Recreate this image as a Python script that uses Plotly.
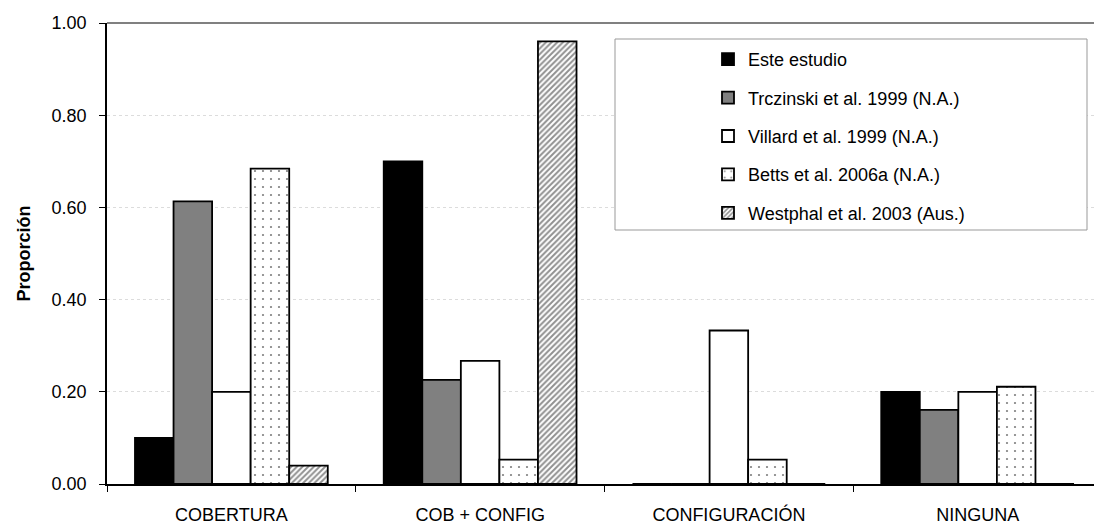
import plotly.graph_objects as go

categories = ["COBERTURA", "COB + CONFIG", "CONFIGURACIÓN", "NINGUNA"]
este_estudio = [0.10, 0.70, 0.0, 0.20]
trczinski = [0.613, 0.226, 0.0, 0.161]
villard = [0.200, 0.267, 0.333, 0.200]
betts = [0.684, 0.053, 0.053, 0.211]
westphal = [0.04, 0.96, 0.0, 0.0]

series_names = [
    "Este estudio",
    "Trczinski et al. 1999 (N.A.)",
    "Villard et al. 1999 (N.A.)",
    "Betts et al. 2006a (N.A.)",
    "Westphal et al. 2003 (Aus.)",
]
y_ticks = [0.0, 0.2, 0.4, 0.6, 0.8, 1.0]

FONT = "Liberation Sans, Arial, sans-serif"
FS = 18
# page has an 8px body margin; size the figure so the plot lands where the reference has it
OFF = 8
PAGE_W, PAGE_H = 1102, 526
PL, PR, PT, PB = 107, 1102, 23, 484   # plot area in page pixels
W, H = PAGE_W - OFF, PAGE_H - OFF

fig = go.Figure()
styles = [
    dict(color="#000000"),
    dict(color="#808080"),
    dict(color="#ffffff"),
    dict(color="#ffffff", pattern=dict(shape=".", fgcolor="#000000", bgcolor="#ffffff", size=8, solidity=0.06)),
    dict(color="#ffffff", pattern=dict(shape="/", fgcolor="#222222", bgcolor="#ffffff", size=4, solidity=0.5)),
]
for i, (name, vals) in enumerate(zip(series_names, [este_estudio, trczinski, villard, betts, westphal])):
    st = styles[i]
    marker = dict(color=st["color"], line=dict(color="#000000", width=1.8))
    if "pattern" in st:
        marker["pattern"] = st["pattern"]
    fig.add_trace(go.Bar(x=categories, y=vals, name=name, marker=marker,
                         legendgroup=f"g{i}"))

def px_x(p):
    return (p - PL) / (PR - PL)
def px_y(p):
    return (PB - p) / (PB - PT)

fig.update_layout(
    width=W, height=H,
    margin=dict(l=PL - OFF, r=PAGE_W - PR, t=PT - OFF, b=PAGE_H - PB),
    paper_bgcolor="white", plot_bgcolor="white",
    barmode="group", bargap=0.225, bargroupgap=0,
    font=dict(family=FONT, size=FS, color="#000000"),
    showlegend=True,
    legend=dict(
        x=px_x(708), y=px_y(41), xanchor="left", yanchor="top",
        bgcolor="rgba(0,0,0,0)", borderwidth=0,
        font=dict(family=FONT, size=FS, color="#000000"),
        tracegroupgap=12, traceorder="grouped",
    ),
    xaxis=dict(
        automargin=False,
        showline=True, linecolor="#000000", linewidth=1.5,
        ticks="outside", tickson="boundaries", ticklen=6, tickcolor="#000000",
        ticklabelstandoff=14,
        tickfont=dict(family=FONT, size=FS, color="#000000"),
        showgrid=False, zeroline=False,
    ),
    yaxis=dict(
        automargin=False,
        range=[0, 1.0], tickvals=y_ticks, ticktext=[f"{v:.2f}" for v in y_ticks],
        showline=True, linecolor="#000000", linewidth=1.5,
        ticks="outside", ticklen=6, tickcolor="#000000",
        ticklabelstandoff=9,
        tickfont=dict(family=FONT, size=FS, color="#000000"),
        showgrid=True, gridcolor="#dcdcdc", gridwidth=1, griddash="dot",
        zeroline=False,
        title=dict(text="<b>Proporción</b>", font=dict(family=FONT, size=FS, color="#000000"), standoff=16),
    ),
    shapes=[
        dict(type="line", xref="paper", yref="paper", x0=0, x1=1, y0=1, y1=1,
             line=dict(color="#808080", width=2)),
        dict(type="rect", xref="paper", yref="paper",
             x0=px_x(615), x1=px_x(1087), y0=px_y(230), y1=px_y(39),
             line=dict(color="#999999", width=1), fillcolor="white", layer="above"),
    ],
)
fig.write_html("out.html")
